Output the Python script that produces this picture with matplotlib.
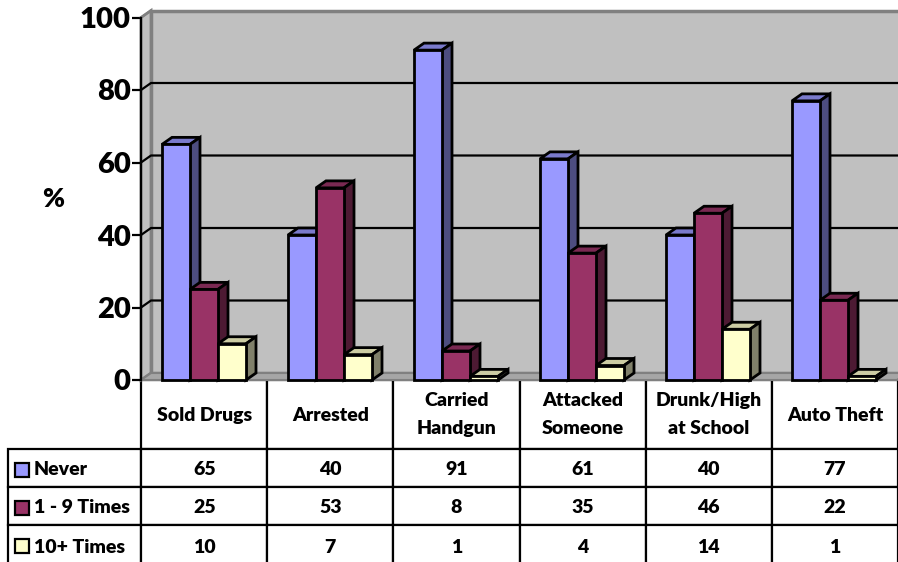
"""3-D style grouped bars with a data table underneath."""

import matplotlib.pyplot as plt
from matplotlib.patches import Polygon, Rectangle
from matplotlib.table import Table

categories = ["Sold Drugs", "Arrested", "Carried\nHandgun", "Attacked\nSomeone", "Drunk/High\nat School", "Auto Theft"]
series_names = ["Never", "1 - 9 Times", "10+ Times"]
never = [65, 40, 91, 61, 40, 77]
times_1_9 = [25, 53, 8, 35, 46, 22]
times_10_plus = [10, 7, 1, 4, 14, 1]
y_ticks = [0, 20, 40, 60, 80, 100]

series = [never, times_1_9, times_10_plus]
front_colors = ["#9999FF", "#993366", "#FFFFCC"]
top_colors = ["#7A7ACC", "#7A2952", "#CCCCA3"]
side_colors = ["#4D4D80", "#4D1A33", "#80806A"]

W, H = 898, 562
X0, X1, Y0, Y100 = 141, 897, 380, 17.5  # front plane, in pixels
PX_X = 126  # pixels per category
PX_Y = (Y0 - Y100) / 100  # pixels per percent
DX, DY = 10 / PX_X, 7 / PX_Y  # depth of the 3-D box, data units

plt.rcParams["font.family"] = ["Lato", "DejaVu Sans"]
plt.rcParams["font.weight"] = "bold"

fig = plt.figure(figsize=(W / 100, H / 100), dpi=100)
ax = fig.add_axes([X0 / W, 1 - Y0 / H, (X1 - X0) / W, (Y0 - Y100) / H])
ax.set_xlim(0, 6)
ax.set_ylim(0, 100)
ax.patch.set_visible(False)
for name in ["top", "right", "bottom"]:
    ax.spines[name].set_visible(False)
ax.spines["left"].set_linewidth(1.6)
ax.spines["left"].set_zorder(6)
ax.set_yticks(y_ticks)
ax.tick_params(axis="y", length=6.5, width=1.6, pad=1, labelsize=21)
for label in ax.get_yticklabels():
    label.set_fontweight("heavy")
ax.set_xticks(range(7))
ax.tick_params(axis="x", length=0, labelbottom=False)
ax.set_ylabel("%", rotation=0, fontsize=19, fontweight="heavy", va="center", ha="center")
ax.yaxis.set_label_coords(-88 / (X1 - X0), (Y0 - 199) / (Y0 - Y100))


def poly(points, **kwargs):
    ax.add_patch(Polygon(points, closed=True, clip_on=False, **kwargs))


# walls and floor
xr = 6 + DX
poly([(DX, DY), (xr, DY), (xr, 100 + DY), (DX, 100 + DY)], fc="#C0C0C0", ec="#808080", lw=2.5, zorder=1)
poly([(0, 0), (DX, DY), (DX, 100 + DY), (0, 100)], fc="#C0C0C0", ec="#808080", lw=2, zorder=1)
poly([(0, 0), (DX, DY), (xr, DY), (6, 0)], fc="#A6A6A6", ec="#808080", lw=1.5, zorder=1)

# gridlines on the back wall, running down the side wall to the ticks
for t in y_ticks[1:-1]:
    ax.plot([0, DX, xr], [t, t + DY, t + DY], color="black", lw=1.6, clip_on=False, zorder=2)
ax.plot([0, DX], [100, 100 + DY], color="#808080", lw=1.5, clip_on=False, zorder=2)

# bars: front through ax.bar, top and side faces as polygons
bar_w = 28 / PX_X
offset = 21 / PX_X
for i, cat_x in enumerate(range(len(categories))):
    for s, vals in enumerate(series):
        left = cat_x + offset + s * bar_w
        right = left + bar_w
        v = vals[i]
        z = 3 + s * 0.1
        ax.bar(left, v, bar_w, align="edge", color=front_colors[s], edgecolor="black", linewidth=2,
               zorder=z + 0.02, clip_on=False)
        poly([(left, v), (left + DX, v + DY), (right + DX, v + DY), (right, v)],
             fc=top_colors[s], ec="black", lw=2, zorder=z)
        poly([(right, 0), (right + DX, DY), (right + DX, v + DY), (right, v)],
             fc=side_colors[s], ec="black", lw=2, zorder=z)

# data table below the axes, last row runs off the bottom of the picture
table_left, table_right = 8, 898
row_h = [68.5, 38.5, 38, 42]
col_w = [133] + [126] * 6
tab = Table(ax, bbox=[(table_left - X0) / (X1 - X0), -sum(row_h) / (Y0 - Y100),
                      (table_right - table_left) / (X1 - X0), sum(row_h) / (Y0 - Y100)])
tab.auto_set_font_size(False)
for c, label in enumerate(categories):
    tab.add_cell(0, c + 1, col_w[c + 1], row_h[0], text=label, loc="center")
for r, name in enumerate(series_names):
    cell = tab.add_cell(r + 1, 0, col_w[0], row_h[r + 1], text=name, loc="left")
    cell.PAD = 26 / col_w[0]
    for c, v in enumerate(series[r]):
        tab.add_cell(r + 1, c + 1, col_w[c + 1], row_h[r + 1], text=str(v), loc="center")
tab.set_fontsize(14)
for cell in tab.get_celld().values():
    cell.set_linewidth(1.6)
    cell.set_edgecolor("black")
    text = cell.get_text()
    text.set_fontweight("heavy")
    text.set_linespacing(1.8)
    if "\n" not in text.get_text():
        text.set_verticalalignment("center_baseline")
ax.add_table(tab)

# legend keys inside the row-label cells
key_top = Y0 + row_h[0] + 14
for r in range(len(series_names)):
    top = key_top + sum(row_h[1:r + 1])
    ax.add_patch(Rectangle(((15 - X0) / PX_X, (Y0 - top - 14) / PX_Y), 14 / PX_X, 14 / PX_Y,
                           fc=front_colors[r], ec="black", lw=1.6, clip_on=False, zorder=7))

fig.savefig("out.png", dpi=100)
plt.close(fig)
